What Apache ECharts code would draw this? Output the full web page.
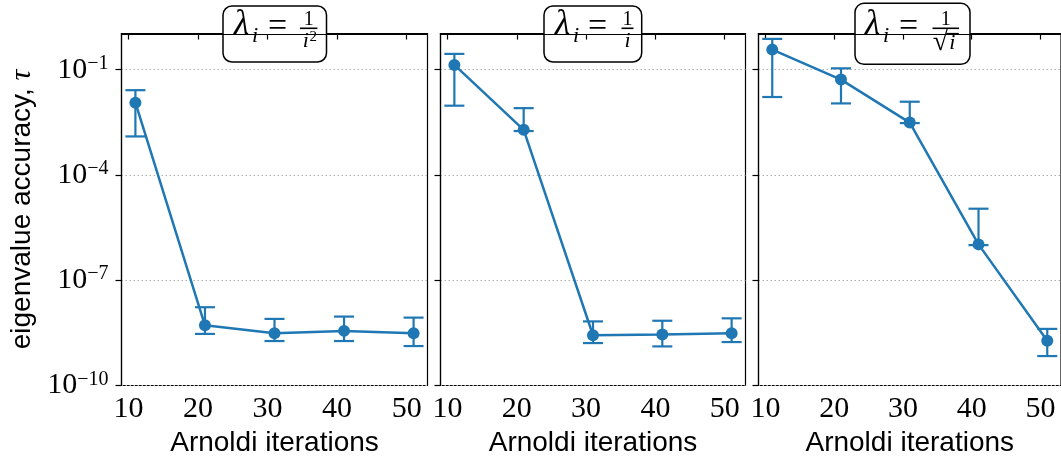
<!DOCTYPE html>
<html>
<head>
<meta charset="utf-8">
<script src="https://cdn.jsdelivr.net/npm/echarts@6/dist/echarts.min.js"></script>
<style>
html, body { margin: 0; padding: 0; background: #fff; }
#chart { width: 1061px; height: 466px; }
</style>
</head>
<body>
<div id="chart"></div>
<script>
// Arnoldi iterations (x positions of the measurements)
var iterations = [11, 21, 31, 41, 51];
var xTicks = [10, 20, 30, 40, 50];
// y ticks as powers of ten
var yTickExp = [-10, -7, -4, -1];

// lambda_i = 1/i^2
var tauSq = [1.14e-2, 5.2e-9, 3.1e-9, 3.6e-9, 3.1e-9];
var tauSqHi = [2.6e-2, 1.7e-8, 7.9e-9, 9.2e-9, 8.6e-9];
var tauSqLo = [1.25e-3, 2.95e-9, 1.85e-9, 1.85e-9, 1.33e-9];
// lambda_i = 1/i
var tauInv = [0.136, 1.93e-3, 2.7e-9, 2.86e-9, 3.1e-9];
var tauInvHi = [0.281, 8.0e-3, 6.7e-9, 7.0e-9, 8.2e-9];
var tauInvLo = [9.4e-3, 1.78e-3, 1.62e-9, 1.3e-9, 1.73e-9];
// lambda_i = 1/sqrt(i)
var tauSqrt = [0.372, 5.2e-2, 3.1e-3, 1.05e-6, 1.89e-9];
var tauSqrtHi = [0.753, 0.109, 1.22e-2, 1.09e-5, 4.1e-9];
var tauSqrtLo = [1.66e-2, 1.09e-2, 3.0e-3, 1.0e-6, 6.9e-10];

var panels = [
    { mean: tauSq, hi: tauSqHi, lo: tauSqLo, denom: 'i', sup: '2' },
    { mean: tauInv, hi: tauInvHi, lo: tauInvLo, denom: 'i', sup: '' },
    { mean: tauSqrt, hi: tauSqrtHi, lo: tauSqrtLo, denom: 'sqrt', sup: '' }
];

var blue = '#1f77b4';
var serif = '"Liberation Serif", "DejaVu Serif", serif';
var sans = '"Liberation Sans", Arial, sans-serif';

// grid placement of the three panels (half pixels keep the frame crisp)
var gridLeft = [121.5, 440.5, 758.5];
var gridWidth = [306, 305, 305];

// title boxes: box x, y, w, h, lambda x, "=" x, fraction center, fraction width
var boxes = [
    { x: 223, y: 6, w: 103.5, h: 56, lam: 234, eq: 268, fc: 308.7, fw: 17.5 },
    { x: 544, y: 6, w: 97.7, h: 56, lam: 555, eq: 588, fc: 627.5, fw: 12 },
    { x: 855, y: 3.3, w: 115, h: 61, lam: 865, eq: 899, fc: 945.8, fw: 26.5 }
];

function lg(v) { return Math.log10(v); }

var chart = echarts.init(document.getElementById('chart'));

var grids = [], xAxes = [], yAxes = [], series = [], graphics = [];

panels.forEach(function (p, i) {
    grids.push({
        left: gridLeft[i], top: 33.5, width: gridWidth[i], height: 352,
        show: true, borderColor: '#000', borderWidth: 1.2, backgroundColor: 'transparent'
    });
    xAxes.push({
        type: 'value', gridIndex: i, min: 9, max: 53,
        axisLine: { show: true, lineStyle: { color: '#000', width: 1.2 } },
        axisTick: { show: true, length: 5, customValues: xTicks, lineStyle: { color: '#000', width: 1.2 } },
        axisLabel: { customValues: xTicks, color: '#000', fontFamily: serif, fontSize: 30, margin: 9 },
        splitLine: { show: false },
        name: 'Arnoldi iterations', nameLocation: 'middle', nameGap: 44,
        nameTextStyle: { color: '#000', fontFamily: sans, fontSize: 28 }
    });
    var yAx = {
        type: 'value', gridIndex: i, min: -10, max: 0.03,
        axisLine: { show: true, lineStyle: { color: '#000', width: 1.2 } },
        axisTick: { show: true, length: 6, customValues: yTickExp, lineStyle: { color: '#000', width: 1.2 } },
        axisLabel: {
            show: i === 0, customValues: yTickExp, margin: 13,
            formatter: function (v) { return '{b|10}{s|\u2212' + Math.abs(v) + '}'; },
            rich: {
                b: { fontFamily: serif, fontSize: 30, lineHeight: 32, color: '#000' },
                s: { fontFamily: serif, fontSize: 20, lineHeight: 20, verticalAlign: 'top', color: '#000' }
            }
        },
        splitLine: { show: true, lineStyle: { color: '#b0b0b0', type: [1.5, 2.5], width: 1 } }
    };
    if (i === 0) {
        yAx.name = '{t|eigenvalue accuracy, }{g|\u03c4}';
        yAx.nameLocation = 'middle';
        yAx.nameGap = 84;
        yAx.nameRotate = 90;
        yAx.nameTextStyle = {
            rich: {
                t: { fontFamily: sans, fontSize: 28, color: '#000' },
                g: { fontFamily: serif, fontStyle: 'italic', fontSize: 30, color: '#000' }
            }
        };
    }
    yAxes.push(yAx);

    series.push({
        type: 'custom', xAxisIndex: i, yAxisIndex: i, z: 3,
        data: iterations.map(function (x, k) { return [x, lg(p.lo[k]), lg(p.hi[k])]; }),
        encode: { x: 0, y: [1, 2] },
        renderItem: function (params, api) {
            var x = api.value(0);
            var a = api.coord([x, api.value(1)]);
            var b = api.coord([x, api.value(2)]);
            var st = { stroke: blue, lineWidth: 2.2 };
            return {
                type: 'group',
                children: [
                    { type: 'line', shape: { x1: a[0], y1: a[1], x2: b[0], y2: b[1] }, style: st },
                    { type: 'line', shape: { x1: a[0] - 10, y1: a[1], x2: a[0] + 10, y2: a[1] }, style: st },
                    { type: 'line', shape: { x1: b[0] - 10, y1: b[1], x2: b[0] + 10, y2: b[1] }, style: st }
                ]
            };
        }
    });
    series.push({
        type: 'line', xAxisIndex: i, yAxisIndex: i, z: 4,
        data: iterations.map(function (x, k) { return [x, lg(p.mean[k])]; }),
        symbol: 'circle', symbolSize: 12,
        lineStyle: { color: blue, width: 2.5 },
        itemStyle: { color: blue }
    });

    // title box with lambda_i = 1/...
    var bx = boxes[i];
    var els = [
        { type: 'rect', shape: { x: bx.x, y: bx.y, width: bx.w, height: bx.h, r: 9 },
          style: { fill: '#fff', stroke: '#000', lineWidth: 1.5 } },
        { type: 'text', x: bx.lam, y: 25, style: { text: '\u03bb', font: 'italic 35px ' + serif, fill: '#000', verticalAlign: 'middle' } },
        { type: 'text', x: bx.lam + 18, y: 36.5, style: { text: 'i', font: 'italic 22px ' + serif, fill: '#000', verticalAlign: 'middle' } },
        { type: 'text', x: bx.eq, y: 27, style: { text: '=', font: '34px ' + serif, fill: '#000', verticalAlign: 'middle' } },
        { type: 'text', x: bx.fc, y: 19.6, style: { text: '1', font: '20px ' + serif, fill: '#000', align: 'center', verticalAlign: 'middle' } },
        { type: 'line', shape: { x1: bx.fc - bx.fw / 2, y1: 28.3, x2: bx.fc + bx.fw / 2, y2: 28.3 }, style: { stroke: '#000', lineWidth: 1.6 } }
    ];
    if (p.denom === 'sqrt') {
        els.push({ type: 'text', x: bx.fc - 13, y: 43, style: { text: '\u221a', font: '28px ' + serif, fill: '#000', verticalAlign: 'middle' } });
        els.push({ type: 'line', shape: { x1: bx.fc + 0.5, y1: 33.5, x2: bx.fc + 13, y2: 33.5 }, style: { stroke: '#000', lineWidth: 1.2 } });
        els.push({ type: 'text', x: bx.fc + 6.5, y: 43, style: { text: 'i', font: 'italic 22px ' + serif, fill: '#000', align: 'center', verticalAlign: 'middle' } });
    } else if (p.sup) {
        els.push({ type: 'text', x: bx.fc - 3, y: 41.6, style: { text: 'i', font: 'italic 22px ' + serif, fill: '#000', align: 'center', verticalAlign: 'middle' } });
        els.push({ type: 'text', x: bx.fc + 4.5, y: 37.2, style: { text: p.sup, font: '15px ' + serif, fill: '#000', align: 'center', verticalAlign: 'middle' } });
    } else {
        els.push({ type: 'text', x: bx.fc, y: 41.6, style: { text: 'i', font: 'italic 22px ' + serif, fill: '#000', align: 'center', verticalAlign: 'middle' } });
    }
    graphics.push({ type: 'group', z: 100, children: els });
});

chart.setOption({
    backgroundColor: '#fff',
    animation: false,
    grid: grids,
    xAxis: xAxes,
    yAxis: yAxes,
    series: series,
    graphic: graphics
});
</script>
</body>
</html>
